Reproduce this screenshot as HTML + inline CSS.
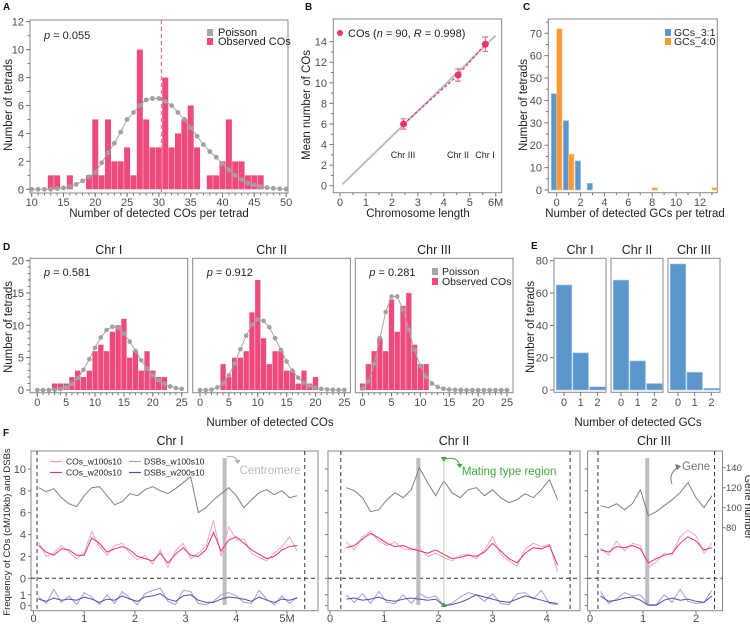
<!DOCTYPE html>
<html><head><meta charset="utf-8">
<style>
html,body{margin:0;padding:0;background:#fff;}
svg{display:block;font-family:"Liberation Sans",Arial,sans-serif;}
.tk{font-size:11px;fill:#4d4d4d;}
.ti{font-size:11.5px;fill:#222;}
.pl{font-size:10px;font-weight:bold;fill:#111;}
.st{font-size:12.5px;fill:#222;}
.lg{font-size:11px;fill:#222;}
</style></head>
<body>
<svg id="fig" width="750" height="624" viewBox="0 0 750 624">
<text class="pl" x="3" y="10">A</text>
<text class="pl" x="305" y="10">B</text>
<text class="pl" x="523" y="10">C</text>
<text class="pl" x="3" y="250">D</text>
<text class="pl" x="531" y="249">E</text>
<text class="pl" x="3" y="436">F</text>

<rect x="30" y="20" width="258" height="173" fill="none" stroke="#888" stroke-width="1"/>
<text class="ti" x="159" y="217" text-anchor="middle">Number of detected COs per tetrad</text>
<text class="ti" transform="translate(12,105) rotate(-90)" text-anchor="middle">Number of tetrads</text>
<text class="lg" x="44" y="39"><tspan font-style="italic">p</tspan> = 0.055</text>
<rect x="207" y="29" width="6" height="7" fill="#a6a6a6"/>
<text class="lg" x="218" y="36">Poisson</text>
<rect x="207" y="38" width="6" height="7" fill="#ee4b7c"/>
<text class="lg" x="218" y="45">Observed COs</text>

<rect x="333.3" y="19" width="168.4" height="173.7" fill="none" stroke="#888"/>
<text class="ti" x="418" y="217" text-anchor="middle">Chromosome length</text>
<text class="ti" transform="translate(310,105) rotate(-90)" text-anchor="middle">Mean number of COs</text>
<circle cx="340" cy="33" r="3" fill="#e8336b"/>
<text class="lg" x="348" y="37">COs (<tspan font-style="italic">n</tspan> = 90, <tspan font-style="italic">R</tspan> = 0.998)</text>
<text x="403" y="158" font-size="9" text-anchor="middle" fill="#222">Chr III</text>
<text x="458" y="158" font-size="9" text-anchor="middle" fill="#222">Chr II</text>
<text x="485" y="158" font-size="9" text-anchor="middle" fill="#222">Chr I</text>

<rect x="548.3" y="19" width="169" height="173.7" fill="none" stroke="#888"/>
<text class="ti" x="635" y="217" text-anchor="middle">Number of detected GCs per tetrad</text>
<text class="ti" transform="translate(527,105) rotate(-90)" text-anchor="middle">Number of tetrads</text>
<rect x="665" y="29" width="6" height="7" fill="#5b97cc"/>
<text class="lg" x="674" y="36" style="font-size:10.5px">GCs_3:1</text>
<rect x="665" y="38" width="6" height="7" fill="#ff9a33"/>
<text class="lg" x="674" y="45" style="font-size:10.5px">GCs_4:0</text>

<text class="ti" x="270" y="426" text-anchor="middle">Number of detected COs</text>
<text class="ti" transform="translate(12,327) rotate(-90)" text-anchor="middle">Number of tetrads</text>
<rect x="432" y="268" width="6" height="7" fill="#a6a6a6"/>
<text class="lg" x="442" y="275" style="font-size:10.5px">Poisson</text>
<rect x="432" y="278" width="6" height="7" fill="#ee4b7c"/>
<text class="lg" x="442" y="285" style="font-size:10.5px">Observed COs</text>

<text class="ti" x="638" y="426" text-anchor="middle">Number of detected GCs</text>
<text class="ti" transform="translate(534,327) rotate(-90)" text-anchor="middle">Number of tetrads</text>

<text class="ti" transform="translate(10,532) rotate(-90)" text-anchor="middle" style="font-size:9.5px">Frequency of COs (cM/10kb) and DSBs</text>
<text class="ti" transform="translate(745,507) rotate(90)" text-anchor="middle" style="font-size:10.5px">Gene number</text>
<text class="st" x="170" y="445" text-anchor="middle">Chr I</text>
<text class="st" x="454" y="445" text-anchor="middle">Chr II</text>
<text class="st" x="654" y="445" text-anchor="middle">Chr III</text>
<g id="flegend">
<line x1="50" y1="461.5" x2="62" y2="461.5" stroke="#f9a0c8" stroke-width="1.2"/>
<text x="66" y="464.5" font-size="8.5" fill="#222">COs_w100s10</text>
<line x1="50" y1="472.5" x2="62" y2="472.5" stroke="#e8336b" stroke-width="1.2"/>
<text x="66" y="475.5" font-size="8.5" fill="#222">COs_w200s10</text>
<line x1="129" y1="461.5" x2="141" y2="461.5" stroke="#a99ad8" stroke-width="1.2"/>
<text x="144" y="464.5" font-size="8.5" fill="#222">DSBs_w100s10</text>
<line x1="129" y1="472.5" x2="141" y2="472.5" stroke="#5b4bb0" stroke-width="1.2"/>
<text x="144" y="475.5" font-size="8.5" fill="#222">DSBs_w200s10</text>
</g>
</svg>

<script>
const aCats = [13,14,15,16,17,18,19,20,21,22,23,24,25,26,27,28,29,30,31,32,33,34,35,36,37,38,39,40,41,42,43,44,45,46];
const aObs  = [1,1,0,1,0,0,1,5,1,5,2,2,3,1,10,5,3,3,8,3,4,5,6,3,0,1,1,2,5,2,2,1,1,1];
const aPoisK = [10,11,12,13,14,15,16,17,18,19,20,21,22,23,24,25,26,27,28,29,30,31,32,33,34,35,36,37,38,39,40,41,42,43,44,45,46,47,48,49,50];
const aPois = [0,0,0,0,0.05,0.1,0.2,0.35,0.6,0.9,1.2,1.9,2.6,3.3,4.1,5.0,5.5,6.0,6.4,6.5,6.5,6.3,6.0,5.5,5.0,4.4,3.8,3.2,2.7,2.3,1.8,1.4,1.0,0.7,0.45,0.3,0.2,0.12,0.07,0.04,0.02];
const aMean = [30.4];
const aYTicks = [0,2,4,6,8,10,12];
const aXTicks = [10,15,20,25,30,35,40,45,50];
const bLen = [2.45,4.55,5.6];
const bMean = [6.0,10.75,13.75];
const bErr = [0.5,0.6,0.7];
const bFitX = [0.1,6.0];
const bFitY = [0.15,14.6];
const bYTicks = [0,2,4,6,8,10,12,14];
const bXTicks = [0,1,2,3,4,5,6];
const bXLabels = ["0","1","2","3","4","5","6M"];
const cCats = [0,1,2,3,8,13];
const cGC31 = [43,31,13,3,0,0];
const cGC40 = [72,16,0,0,1,1];
const cYTicks = [0,10,20,30,40,50,60,70];
const cXTicks = [0,2,4,6,8,10,12];
const dChr = ["Chr I","Chr II","Chr III"];
const dP = ["0.581","0.912","0.281"];
const dK = [0,1,2,3,4,5,6,7,8,9,10,11,12,13,14,15,16,17,18,19,20,21,22,23,24,25];
const dObs1 = [0,0,0,1,1,1,2,3,2,3,6,7,6,9,10,11,5,6,3,6,3,2,2,0,0,0];
const dObs2 = [0,0,0,0,4,2,5,5,6,12,17,8,4,6,6,3,3,1,3,1,2,0,0,0,0,0];
const dObs3 = [1,4,6,8,6,14,9,13,15,7,4,4,0,0,0,0,0,0,0,0,0,0,0,0,0,0];
const dPois1 = [0,0,0,0.04,0.15,0.41,0.93,1.83,3.13,4.76,6.52,8.12,9.27,9.77,9.56,8.73,7.48,6.03,4.59,3.31,2.27,1.48,0.92,0.55,0.31,0.17];
const dPois2 = [0,0,0.05,0.39,1.05,2.26,4.07,6.3,8.4,10.1,10.9,10.7,9.7,8.0,6.2,4.4,3.0,1.9,1.1,0.64,0.35,0.18,0.09,0.04,0.02,0.01];
const dPois3 = [0.22,1.34,4.02,8.03,12.05,14.46,14.46,12.4,9.3,6.2,3.72,2.03,1.01,0.47,0.2,0.08,0.03,0.01,0,0,0,0,0,0,0,0];
const dYTicks = [0,5,10,15,20];
const dXTicks = [0,5,10,15,20,25];
const eK = [0,1,2];
const eGC1 = [65,23,2];
const eGC2 = [68,18,4];
const eGC3 = [78,11,1];
const eYTicks = [0,20,40,60,80];
const fStart = [0.1,0.3,0.2];
const fStep = [0.15,0.15,0.15];
const fGene1 = [120,116,119,110,104,101,112,120,121,112,103,106,114,112,118,121,117,114,119,125,131,95,100,108,114,120,112,100,108,115,118,113,117,110,112];
const fCO200_1 = [3.0,2.4,2.1,2.7,2.6,2.1,2.1,3.7,3.2,2.4,2.7,2.9,2.6,2.0,1.8,1.6,2.3,1.4,2.2,2.8,2.1,2.0,2.6,4.2,2.5,3.5,3.8,3.2,2.6,2.2,1.8,2.0,2.6,2.9,3.0];
const fCO100_1 = [3.3,2.0,2.3,3.0,2.4,1.8,2.3,4.3,2.9,2.1,3.0,3.2,2.3,1.7,2.1,1.3,2.6,1.0,2.5,3.2,1.8,2.3,2.9,5.3,2.0,4.7,3.5,3.6,2.3,1.9,1.6,2.3,2.9,3.8,2.5];
const fDSB200_1 = [0.6,0.4,0.7,0.5,0.6,0.5,0.8,0.6,0.3,0.6,0.5,0.9,0.6,0.4,0.8,0.9,1.1,0.6,0.4,0.9,1.0,0.5,0.3,0.3,0.6,0.8,0.7,0.6,0.4,0.8,0.5,0.3,0.6,0.5,0.7];
const fDSB100_1 = [0.8,0.2,1.5,0.3,0.9,0.1,1.2,0.8,0.1,1.0,0.2,1.3,0.7,0.1,1.1,1.4,1.6,0.4,0.1,1.4,1.3,0.2,0.1,0.4,1.0,1.2,0.9,0.3,0.2,1.4,0.6,0.1,0.9,0.2,0.8];
const fGene2 = [120,117,110,96,98,108,115,110,118,140,125,112,127,115,110,118,120,112,118,110,105,108,114,110,118,128,108];
const fCO200_2 = [2.8,3.0,3.6,4.1,3.7,3.2,2.9,3.0,2.7,2.5,2.3,2.6,2.2,1.8,1.9,2.1,2.0,2.4,3.2,2.5,1.8,1.4,2.3,2.8,2.7,3.0,1.2];
const fCO100_2 = [3.3,2.6,3.8,4.3,3.4,3.0,3.3,2.7,2.6,2.8,2.0,2.3,1.9,1.6,2.1,2.2,1.8,2.6,3.8,2.2,1.6,1.1,2.7,3.2,2.9,3.1,0.6];
const fDSB200_2 = [0.6,0.7,0.5,0.6,0.8,0.5,0.4,0.6,0.7,0.6,0.5,0.6,0.0,0.1,0.3,0.6,1.0,0.8,0.6,0.4,0.3,0.6,0.9,0.7,0.5,0.3,0.2];
const fDSB100_2 = [1.0,0.3,1.1,0.2,1.3,0.3,0.2,1.0,0.2,1.1,0.7,0.9,0.05,0.2,0.8,1.2,1.0,0.4,1.1,0.2,0.1,1.1,1.2,0.6,1.4,0.2,0.1];
const fGene3 = [102,100,104,98,104,118,92,96,102,108,115,125,110,100,112];
const fCO200_3 = [2.6,2.4,2.9,2.8,3.0,2.7,1.4,1.8,2.1,2.3,3.2,3.8,3.4,2.6,2.8];
const fCO100_3 = [2.8,2.1,3.4,2.5,3.2,3.0,1.0,1.5,2.3,2.1,3.8,4.4,3.9,2.3,3.2];
const fDSB200_3 = [0.9,0.4,0.5,0.7,0.8,0.5,0.05,0.05,0.5,0.7,0.5,0.6,0.4,0.3,0.9];
const fDSB100_3 = [1.3,0.2,0.6,1.2,0.9,1.0,0.1,0.1,1.0,0.3,1.5,0.4,0.2,0.3,1.4];
const fCentromere = [3.77,1.63,1.08];
const fMating = [2.1];
const fChrEnds = [[0.07,5.35],[0.2,4.43],[0.15,2.35]];
const fXTicks1 = [0,1,2,3,4,5];
const fXLabels1 = ["0","1","2","3","4","5M"];
const fXTicks2 = [0,1,2,3,4];
const fXTicks3 = [0,1,2];
const fYTicksUp = [0,2,4,6,8,10];
const fYTicksLow = [0,1];
const fGeneTicks = [80,100,120,140];

const NS = 'http://www.w3.org/2000/svg';
const svg = document.getElementById('fig');
function mk(tag, attrs, parent){
  const e = document.createElementNS(NS, tag);
  for (const k in attrs) e.setAttribute(k, attrs[k]);
  (parent || svg).appendChild(e);
  return e;
}
function txt(x, y, s, anchor, cls){
  const t = mk('text', {x:x, y:y, 'text-anchor':anchor, class:cls||'tk'});
  t.textContent = s;
  return t;
}
const TK = '#777';

const xA = v => 31.7 + (v - 10) * 6.36;
const yA = v => 189.3 - v * 13.97;
aCats.forEach((k, i) => {
  const r = mk('rect', {x:xA(k-0.47), y:yA(aObs[i]), width:0.94*6.36, height:Math.max(0, yA(0)-yA(aObs[i])), fill:'#ee4b7c'});
  
  
});
{
  const pl = mk('polyline', {points:aPoisK.map((k,i)=>xA(k)+','+yA(aPois[i])).join(' '), fill:'none', stroke:'#a6a6a6', 'stroke-width':1});
  
  
  aPoisK.forEach((k,i)=>{
    const c = mk('circle', {cx:xA(k), cy:yA(aPois[i]), r:2.4, fill:'#a0a0a0'});
    
    
  });
  const ml = mk('line', {x1:xA(aMean[0]), x2:xA(aMean[0]), y1:20, y2:193, stroke:'#f06d96', 'stroke-width':1.2, 'stroke-dasharray':'4,3'});
  
  
}
for (let v = 0; v <= 12; v++) mk('line', {x1:27.5, x2:30, y1:yA(v), y2:yA(v), stroke:TK});
aYTicks.forEach(v=>{ mk('line',{x1:26,x2:30,y1:yA(v),y2:yA(v),stroke:TK}); const t=txt(24,yA(v)+4,String(v),'end');   });
for (let v = 10; v <= 50; v++) mk('line', {x1:xA(v), x2:xA(v), y1:193, y2:195.5, stroke:TK});
aXTicks.forEach(v=>{ mk('line',{x1:xA(v),x2:xA(v),y1:193,y2:197,stroke:TK}); const t=txt(xA(v),206,String(v),'middle');   });

const xB = v => 340 + v * 25.95;
const yB = v => 185.7 - v * 10.29;
{
  const fl = mk('line', {x1:xB(bFitX[0]), y1:yB(bFitY[0]), x2:xB(bFitX[1]), y2:yB(bFitY[1]), stroke:'#bdbdbd', 'stroke-width':2});
  
  
  const dl = mk('polyline', {points:bLen.map((v,i)=>xB(v)+','+yB(bMean[i])).join(' '), fill:'none', stroke:'#e8336b', 'stroke-width':1.2, 'stroke-dasharray':'3,2'});
  
  
  bLen.forEach((v,i)=>{
    const x = xB(v), y1 = yB(bMean[i]-bErr[i]), y2 = yB(bMean[i]+bErr[i]);
    const e = mk('path', {d:`M${x},${y1}V${y2}M${x-3},${y1}H${x+3}M${x-3},${y2}H${x+3}`, stroke:'#f06d96', 'stroke-width':1.2, fill:'none'});
    
    
    const c = mk('circle', {cx:x, cy:yB(bMean[i]), r:3.5, fill:'#e8336b'});
    
    
  });
}
for (let v = 1; v <= 14; v += 2) mk('line', {x1:330.8, x2:333.3, y1:yB(v), y2:yB(v), stroke:TK});
bYTicks.forEach(v=>{ mk('line',{x1:329.5,x2:333.3,y1:yB(v),y2:yB(v),stroke:TK}); const t=txt(327,yB(v)+4,String(v),'end');   });
for (let v = 0.5; v < 6; v += 1) mk('line', {x1:xB(v), x2:xB(v), y1:192.7, y2:195.2, stroke:TK});
bXTicks.forEach((v,i)=>{ mk('line',{x1:xB(v),x2:xB(v),y1:192.7,y2:196.5,stroke:TK}); const t=txt(xB(v),206,bXLabels[i],'middle');   });

const xC = v => 556.7 + v * 11.94;
const yC = v => 190 - v * 2.239;
cCats.forEach((k,i)=>{
  if (cGC31[i] > 0) {
    const r = mk('rect', {x:xC(k-0.45), y:yC(cGC31[i]), width:0.45*11.94, height:yC(0)-yC(cGC31[i]), fill:'#5b97cc', stroke:'#a9c8e6', 'stroke-width':0.6});
    
    
  }
  if (cGC40[i] > 0) {
    const r = mk('rect', {x:xC(k), y:yC(cGC40[i]), width:0.45*11.94, height:yC(0)-yC(cGC40[i]), fill:'#ff9a33', stroke:'#ffc58a', 'stroke-width':0.6});
    
    
  }
});
for (let v = 5; v <= 75; v += 10) mk('line', {x1:545.8, x2:548.3, y1:yC(v), y2:yC(v), stroke:TK});
cYTicks.forEach(v=>{ mk('line',{x1:544.5,x2:548.3,y1:yC(v),y2:yC(v),stroke:TK}); const t=txt(542,yC(v)+4,String(v),'end');   });
for (let v = 1; v <= 13; v += 2) mk('line', {x1:xC(v), x2:xC(v), y1:192.7, y2:195.2, stroke:TK});
cXTicks.forEach(v=>{ mk('line',{x1:xC(v),x2:xC(v),y1:192.7,y2:196.5,stroke:TK}); const t=txt(xC(v),206,String(v),'middle');   });

const dLeft = [30, 192.7, 355.3];
const dW = 157.7, dTop = 258.3, dBot = 392.7;
const xD = (f, v) => dLeft[f] + 7.3 + v * 5.776;
const yD = v => 390 - v * 6.47;
const dObsAll = [dObs1, dObs2, dObs3];
const dPoisAll = [dPois1, dPois2, dPois3];
dLeft.forEach((L, f)=>{
  const fr = mk('rect', {x:L, y:dTop, width:dW, height:dBot-dTop, fill:'none', stroke:'#888'});
  
  
  const st = txt(L + dW/2, 254, dChr[f], 'middle', 'st');
  
  
  const p = mk('text', {x:L+14, y:276, class:'lg'});
  p.innerHTML = '<tspan font-style="italic">p</tspan> = ' + dP[f];
  
  
  dK.forEach((k,i)=>{
    const v = dObsAll[f][i];
    if (v > 0) {
      const r = mk('rect', {x:xD(f,k-0.46), y:yD(v), width:0.92*5.776, height:yD(0)-yD(v), fill:'#ee4b7c'});
      
      
    }
  });
  const pl = mk('polyline', {points:dK.map((k,i)=>xD(f,k)+','+yD(dPoisAll[f][i])).join(' '), fill:'none', stroke:'#a6a6a6', 'stroke-width':1});
  
  
  dK.forEach((k,i)=>{
    const c = mk('circle', {cx:xD(f,k), cy:yD(dPoisAll[f][i]), r:2.3, fill:'#a0a0a0'});
    
    
  });
  for (let v = 0; v <= 25; v++) mk('line', {x1:xD(f,v), x2:xD(f,v), y1:dBot, y2:dBot+2.5, stroke:TK});
  dXTicks.forEach(v=>{ mk('line',{x1:xD(f,v),x2:xD(f,v),y1:dBot,y2:dBot+4,stroke:TK}); const t=txt(xD(f,v),406,String(v),'middle');   });
});
for (let v = 0; v <= 20; v++) mk('line', {x1:27.5, x2:30, y1:yD(v), y2:yD(v), stroke:TK});
dYTicks.forEach(v=>{ mk('line',{x1:26,x2:30,y1:yD(v),y2:yD(v),stroke:TK}); const t=txt(24,yD(v)+4,String(v),'end');   });

const eLeft = [554, 611, 668];
const eW = 52;
const xE = (f, v) => eLeft[f] + 10 + v * 16.7;
const yE = v => 390 - v * 1.616;
const eAll = [eGC1, eGC2, eGC3];
eLeft.forEach((L, f)=>{
  const fr = mk('rect', {x:L, y:258.3, width:eW, height:134, fill:'none', stroke:'#888'});
  
  
  const st = txt(L + eW/2, 254, dChr[f], 'middle', 'st');
  
  
  eK.forEach((k,i)=>{
    const v = eAll[f][i];
    const r = mk('rect', {x:xE(f,k)-7.8, y:yE(v), width:15.6, height:yE(0)-yE(v), fill:'#5b97cc', stroke:'#a9c8e6', 'stroke-width':0.6});
    
    
    mk('line',{x1:xE(f,k),x2:xE(f,k),y1:392.3,y2:396,stroke:TK});
    const t = txt(xE(f,k), 406, String(k), 'middle');
    
    
  });
});
eYTicks.forEach(v=>{ mk('line',{x1:550,x2:554,y1:yE(v),y2:yE(v),stroke:TK}); const t=txt(548,yE(v)+4,String(v),'end');   });

const fLeft = [31, 328, 587.6];
const fRight = [318, 580, 722.5];
const fTop = 451, fBot = 610.7;
const fX0 = [33.5, 330, 590];
const fScale = [50.7, 54.2, 53];
const xF = (f, v) => fX0[f] + v * fScale[f];
const yF = v => 578.3 - v * 10.93;
const yDSB = v => 605.7 - v * 10.93;
const yG = g => 507.7 - (g - 100) * 1.0;
const fGeneAll = [fGene1, fGene2, fGene3];
const fCO100All = [fCO100_1, fCO100_2, fCO100_3];
const fCO200All = [fCO200_1, fCO200_2, fCO200_3];
const fDSB100All = [fDSB100_1, fDSB100_2, fDSB100_3];
const fDSB200All = [fDSB200_1, fDSB200_2, fDSB200_3];
const fXTickSets = [fXTicks1, fXTicks2, fXTicks3];
function series(f, arr, yfn){
  return arr.map((v,i)=>xF(f, fStart[f] + i*fStep[f]).toFixed(1) + ',' + yfn(v).toFixed(1)).join(' ');
}
fLeft.forEach((L, f)=>{
  const fr = mk('rect', {x:L, y:fTop, width:fRight[f]-L, height:fBot-fTop, fill:'none', stroke:'#888'});
  
  
  fChrEnds[f].forEach(v=>{
    const l = mk('line', {x1:xF(f,v), x2:xF(f,v), y1:fTop, y2:fBot, stroke:'#333', 'stroke-width':1, 'stroke-dasharray':'4,3'});
    
    
  });
  const h = mk('line', {x1:L, x2:fRight[f], y1:yF(0), y2:yF(0), stroke:'#333', 'stroke-dasharray':'4,3'});
  
  
  const cb = mk('rect', {x:xF(f,fCentromere[f])-2, y:458, width:4, height:147, fill:'#bdbdbd'});
  
  
  const g = mk('polyline', {points:series(f, fGeneAll[f], yG), fill:'none', stroke:'#808080', 'stroke-width':1});
  
  
  const c1 = mk('polyline', {points:series(f, fCO100All[f], yF), fill:'none', stroke:'#f9a0c8', 'stroke-width':1});
  
  
  const c2 = mk('polyline', {points:series(f, fCO200All[f], yF), fill:'none', stroke:'#e8336b', 'stroke-width':1});
  
  
  const d1 = mk('polyline', {points:series(f, fDSB100All[f], yDSB), fill:'none', stroke:'#a99ad8', 'stroke-width':1});
  
  
  const d2 = mk('polyline', {points:series(f, fDSB200All[f], yDSB), fill:'none', stroke:'#5b4bb0', 'stroke-width':1});
  
  
  fXTickSets[f].forEach((v,i)=>{
    mk('line',{x1:xF(f,v),x2:xF(f,v),y1:fBot,y2:fBot+3,stroke:TK});
    const lab = (f===0) ? fXLabels1[i] : String(v);
    const t = txt(xF(f,v), 622, lab, 'middle');
    
    
  });
  fYTicksUp.forEach(v=> mk('line',{x1:L-3,x2:L,y1:yF(v),y2:yF(v),stroke:TK}));
  fYTicksLow.forEach(v=> mk('line',{x1:L-3,x2:L,y1:yDSB(v),y2:yDSB(v),stroke:TK}));
});
fYTicksUp.forEach(v=>{ const t=txt(26,yF(v)+4,String(v),'end');   });
fYTicksLow.forEach(v=>{ const t=txt(26,yDSB(v)+4,String(v),'end');   });
fGeneTicks.forEach(v=>{
  mk('line',{x1:722.5,x2:725.5,y1:yG(v),y2:yG(v),stroke:TK});
  const t = txt(726, yG(v)+3.5, String(v), 'start');
  t.setAttribute('style', 'font-size:9.5px');
  
  
});
{
  const mx = xF(1, fMating[0]);
  const ml = mk('line', {x1:mx, x2:mx, y1:460, y2:604, stroke:'#a8dca8', 'stroke-width':1});
  
  
  const t1 = mk('path', {d:`M${mx-3},457 L${mx+3},457 L${mx},462 Z`, fill:'#3cab3c'});
  
  
  const t2 = mk('path', {d:`M${mx-3},607 L${mx+3},607 L${mx},602 Z`, fill:'#3cab3c'});
  
  
  const ar = mk('path', {d:`M${mx+2},459 Q${mx+14},456 ${mx+16},466`, fill:'none', stroke:'#3cab3c', 'stroke-width':1});
  
  
  mk('path', {d:`M${mx+13},464 L${mx+19},464 L${mx+16},468 Z`, fill:'#3cab3c'});
  const tx = mk('text', {x:mx+18, y:475, 'font-size':11.5, fill:'#3cab3c'});
  tx.textContent = 'Mating type region';
  
  
  const cx = xF(0, fCentromere[0]);
  const ca = mk('path', {d:`M${cx+2},457 Q${cx+12},455 ${cx+13},462`, fill:'none', stroke:'#aaa', 'stroke-width':1});
  
  
  mk('path', {d:`M${cx+10},460 L${cx+16},460 L${cx+13},464 Z`, fill:'#aaa'});
  const ct = mk('text', {x:cx+15, y:474, 'font-size':11.5, fill:'#bbb'});
  ct.textContent = 'Centromere';
  
  
  const ga = mk('path', {d:'M672,484 Q668,474 678,467', fill:'none', stroke:'#777', 'stroke-width':1});
  
  
  mk('path', {d:'M675,464 L681,466 L677,470 Z', fill:'#777'});
  const gt = mk('text', {x:682, y:470, 'font-size':11.5, fill:'#777'});
  gt.textContent = 'Gene';
  
  
}
</script>
</body></html>
